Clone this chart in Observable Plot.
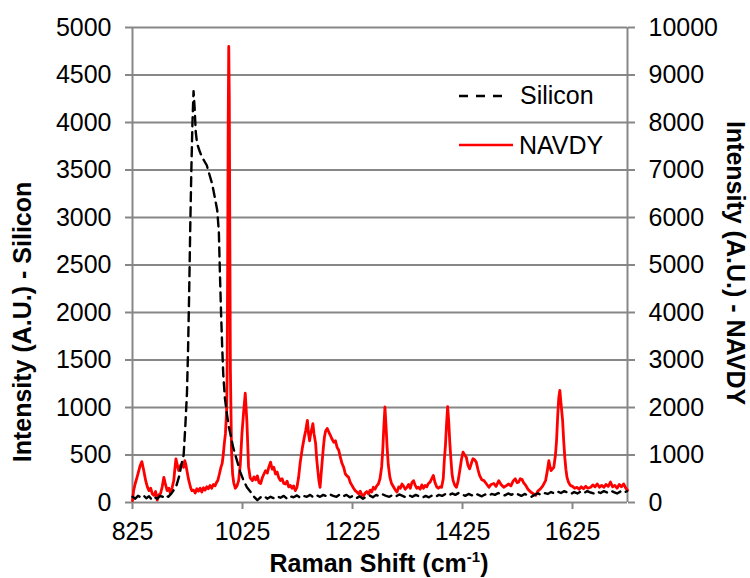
<!DOCTYPE html>
<html>
<head>
<meta charset="utf-8">
<script src="https://cdn.jsdelivr.net/npm/d3@7"></script>
<script src="https://cdn.jsdelivr.net/npm/@observablehq/plot@0.6"></script>
<style>
  body { margin: 0; background: #fff; }
  #chart { position: relative; width: 750px; height: 578px; }
</style>
</head>
<body>
<div id="chart"></div>
<script>
// ---- Data ----
const xTicks = [825, 1025, 1225, 1425, 1625];
const leftTicks = [0, 500, 1000, 1500, 2000, 2500, 3000, 3500, 4000, 4500, 5000];
const rightTicks = [0, 1000, 2000, 3000, 4000, 5000, 6000, 7000, 8000, 9000, 10000];
const xDomain = [825, 1725];
const leftMax = 5000;
const rightMax = 10000;

// Silicon: [Raman shift, intensity] (left axis)
const silicon = [
  [825,60],[830,40],[835,70],[840,55],[845,75],[850,45],[855,65],[860,30],[865,55],[870,40],
  [875,70],[880,60],[885,80],[890,60],[895,90],[900,130],[905,180],[910,280],[914,400],[918,500],
  [921,800],[924,1150],[926,1600],[928,2200],[930,2900],[932,3500],[934,4000],[936,4330],[938,4150],
  [940,3900],[942,3800],[944,3750],[947,3700],[951,3640],[955,3600],[960,3550],[965,3450],[970,3350],
  [975,3200],[979,3080],[982,2850],[984,2400],[986,2000],[988,1650],[990,1350],[993,1100],[997,920],
  [1000,800],[1003,720],[1008,580],[1015,440],[1021,320],[1027,230],[1033,160],[1040,110],[1046,60],
  [1052,25],[1058,55],[1064,70],[1070,40],[1076,60],[1082,45],[1088,65],[1094,50],[1100,70],[1106,40],
  [1112,65],[1118,55],[1124,75],[1130,50],[1136,70],[1142,60],[1148,80],[1154,55],[1160,75],[1166,60],
  [1172,80],[1178,65],[1184,85],[1190,70],[1196,60],[1202,85],[1208,65],[1214,80],[1220,55],[1226,70],
  [1232,45],[1238,65],[1244,40],[1250,60],[1256,75],[1262,55],[1268,80],[1274,65],[1280,85],[1286,70],
  [1292,60],[1298,80],[1304,65],[1310,85],[1316,70],[1322,55],[1328,75],[1334,60],[1340,80],[1346,65],
  [1352,50],[1358,70],[1364,55],[1370,75],[1376,60],[1382,80],[1388,70],[1394,90],[1400,75],[1406,95],
  [1412,80],[1418,100],[1424,85],[1430,70],[1436,90],[1442,75],[1448,95],[1454,80],[1460,65],[1466,85],
  [1472,70],[1478,90],[1484,80],[1490,100],[1496,85],[1502,75],[1508,95],[1514,80],[1520,100],[1526,85],
  [1532,70],[1538,90],[1544,75],[1550,60],[1556,80],[1562,95],[1568,80],[1574,100],[1580,90],[1586,110],
  [1592,95],[1598,115],[1604,100],[1610,120],[1616,105],[1622,90],[1628,110],[1634,95],[1640,115],
  [1646,100],[1652,120],[1658,105],[1664,95],[1670,115],[1676,100],[1682,120],[1688,105],[1694,125],
  [1700,110],[1706,95],[1712,115],[1718,100],[1724,120]
];

// NAVDY: [Raman shift, intensity] (right axis)
const navdy = [
  [825,40],[827,250],[830,400],[833,520],[836,650],[839,780],[842,860],[845,700],[849,460],[852,330],
  [855,250],[858,300],[861,180],[864,150],[867,230],[870,50],[873,160],[876,190],[879,330],[882,530],
  [885,380],[888,250],[891,300],[894,190],[897,310],[900,460],[902,700],[904,920],[907,760],[909,670],
  [912,780],[915,810],[918,740],[920,880],[922,800],[924,670],[927,480],[929,390],[931,300],[933,250],
  [936,260],[939,200],[942,290],[945,240],[948,300],[951,220],[954,310],[957,260],[960,330],[963,290],
  [966,360],[969,300],[972,380],[975,350],[978,430],[980,460],[983,600],[986,750],[988,820],[990,1000],
  [992,1250],[994,1450],[996,1900],[997,2600],[998,5000],[999,8000],[1000,9600],[1001,8500],[1002,5500],
  [1003,2800],[1005,1100],[1007,600],[1009,420],[1012,300],[1015,350],[1018,460],[1021,800],[1024,1450],
  [1027,1900],[1030,2300],[1033,1700],[1036,750],[1039,520],[1043,460],[1046,540],[1049,480],[1052,560],
  [1055,420],[1058,400],[1061,520],[1064,600],[1067,670],[1070,620],[1073,750],[1076,850],[1079,700],
  [1082,740],[1085,600],[1088,640],[1091,520],[1094,460],[1097,500],[1100,400],[1103,390],[1106,450],
  [1109,330],[1112,360],[1115,300],[1118,350],[1121,250],[1124,320],[1127,530],[1130,850],[1134,1160],
  [1137,1350],[1140,1520],[1143,1730],[1145,1450],[1147,1300],[1149,1450],[1151,1550],[1153,1660],
  [1155,1450],[1158,1240],[1160,900],[1162,670],[1164,450],[1166,320],[1168,600],[1170,880],[1172,1150],
  [1174,1380],[1176,1500],[1179,1560],[1182,1480],[1185,1410],[1188,1330],[1191,1270],[1194,1300],
  [1197,1160],[1200,1100],[1203,950],[1206,820],[1209,740],[1212,600],[1215,560],[1218,530],[1221,420],
  [1224,360],[1227,300],[1230,250],[1233,220],[1236,180],[1239,240],[1242,160],[1245,140],[1248,200],
  [1251,230],[1254,180],[1257,260],[1260,220],[1263,320],[1266,280],[1269,350],[1272,390],[1275,500],
  [1278,750],[1280,1100],[1282,1600],[1284,2010],[1286,1600],[1288,1150],[1290,800],[1293,530],[1296,400],
  [1300,320],[1303,260],[1306,220],[1309,330],[1312,300],[1315,390],[1318,340],[1321,280],[1324,320],
  [1327,380],[1330,300],[1333,420],[1336,460],[1339,360],[1342,300],[1345,320],[1348,280],[1351,370],
  [1354,300],[1357,360],[1360,330],[1363,400],[1366,430],[1369,500],[1372,570],[1375,420],[1378,330],
  [1381,300],[1384,330],[1387,320],[1390,500],[1392,900],[1394,1200],[1396,1650],[1398,2020],[1400,1700],
  [1402,1250],[1404,900],[1406,600],[1408,460],[1411,360],[1414,320],[1417,450],[1420,670],[1423,900],
  [1426,1060],[1429,1000],[1432,950],[1435,780],[1438,710],[1441,820],[1444,920],[1447,900],[1450,850],
  [1453,700],[1456,570],[1460,480],[1464,460],[1468,400],[1473,320],[1477,380],[1482,400],[1486,340],
  [1491,460],[1495,380],[1500,320],[1504,350],[1509,390],[1513,350],[1517,450],[1521,500],[1524,420],
  [1527,430],[1530,500],[1533,490],[1536,420],[1540,360],[1544,280],[1549,220],[1553,190],[1558,150],
  [1562,240],[1567,290],[1571,350],[1576,460],[1579,650],[1582,880],[1584,760],[1586,670],[1588,700],
  [1591,740],[1594,1000],[1596,1300],[1598,1800],[1600,2200],[1602,2360],[1604,2100],[1607,1730],
  [1609,1300],[1611,950],[1613,700],[1615,530],[1618,420],[1621,360],[1625,340],[1629,300],[1633,320],
  [1637,280],[1641,330],[1645,290],[1649,340],[1653,300],[1658,320],[1662,370],[1666,330],[1670,390],
  [1674,320],[1678,360],[1682,320],[1686,380],[1690,340],[1694,430],[1698,330],[1702,360],[1706,300],
  [1710,380],[1714,330],[1718,390],[1722,300],[1725,260]
];

const seriesNames = ["Silicon", "NAVDY"];
const xTitle = "Raman Shift (cm";
const xTitleSup = "-1";
const leftTitle = "Intensity (A.U.) - Silicon";
const rightTitle = "Intensity (A.U.) - NAVDY";

// ---- Chart ----
const ratio = leftMax / rightMax;
const grid = "#878787";
const font = "'Liberation Sans', Arial, sans-serif";
const plain = d => String(Math.round(d));

const chart = Plot.plot({
  width: 750,
  height: 578,
  marginLeft: 132,
  marginRight: 123,
  marginTop: 27,
  marginBottom: 76,
  style: { fontFamily: font, fontSize: "25px", color: "black", background: "white", overflow: "visible" },
  x: { domain: xDomain },
  y: { domain: [0, leftMax] },
  marks: [
    Plot.gridY(leftTicks, { stroke: grid, strokeOpacity: 1, strokeWidth: 2 }),
    Plot.ruleX([xDomain[0], xDomain[1]], { y1: 0, y2: leftMax, stroke: grid, strokeWidth: 2 }),
    Plot.axisY(leftTicks, { anchor: "left", tickSize: 7, tickPadding: 14, stroke: grid, strokeWidth: 2, fill: "black", tickFormat: plain, label: null }),
    Plot.axisY(rightTicks.map(t => t * ratio), { anchor: "right", tickSize: 7, tickPadding: 14, stroke: grid, strokeWidth: 2, fill: "black", tickFormat: d => plain(d / ratio), label: null }),
    Plot.axisX(xTicks, { anchor: "bottom", tickSize: 7, tickPadding: 13, stroke: grid, strokeWidth: 2, fill: "black", tickFormat: plain, label: null }),
    Plot.line(navdy, { x: d => d[0], y: d => d[1] * ratio, stroke: "#ff0000", strokeWidth: 2.8, curve: "linear" }),
    Plot.line(silicon, { x: d => d[0], y: d => d[1], stroke: "black", strokeWidth: 2.4, strokeDasharray: "9,6" })
  ]
});

document.getElementById("chart").appendChild(chart);

const svg = d3.select(chart);

// Axis titles
const xt = svg.append("text")
  .attr("x", 379).attr("y", 572)
  .attr("text-anchor", "middle")
  .attr("font-family", font).attr("font-size", 25).attr("font-weight", "bold")
  .attr("fill", "black");
xt.append("tspan").text(xTitle);
xt.append("tspan").attr("font-size", 15).attr("dy", -10).text(xTitleSup);
xt.append("tspan").attr("dy", 10).text(")");

svg.append("text")
  .attr("transform", "translate(31,322) rotate(-90)")
  .attr("text-anchor", "middle")
  .attr("font-family", font).attr("font-size", 25).attr("font-weight", "bold")
  .attr("fill", "black")
  .text(leftTitle);

svg.append("text")
  .attr("transform", "translate(727,263) rotate(90)")
  .attr("text-anchor", "middle")
  .attr("font-family", font).attr("font-size", 25).attr("font-weight", "bold")
  .attr("fill", "black")
  .text(rightTitle);

// Legend (inside plot, upper right)
const lg = svg.append("g").attr("font-family", font).attr("font-size", 25).attr("text-anchor", "start");
lg.append("line").attr("x1", 459).attr("x2", 506).attr("y1", 96).attr("y2", 96)
  .attr("stroke", "black").attr("stroke-width", 2.4).attr("stroke-dasharray", "9,8");
lg.append("text").attr("x", 520).attr("y", 104).attr("text-anchor", "start").attr("fill", "black").text(seriesNames[0]);
lg.append("line").attr("x1", 459).attr("x2", 513).attr("y1", 145).attr("y2", 145)
  .attr("stroke", "#ff0000").attr("stroke-width", 2.6);
lg.append("text").attr("x", 519).attr("y", 154).attr("text-anchor", "start").attr("fill", "black").text(seriesNames[1]);
</script>
</body>
</html>
